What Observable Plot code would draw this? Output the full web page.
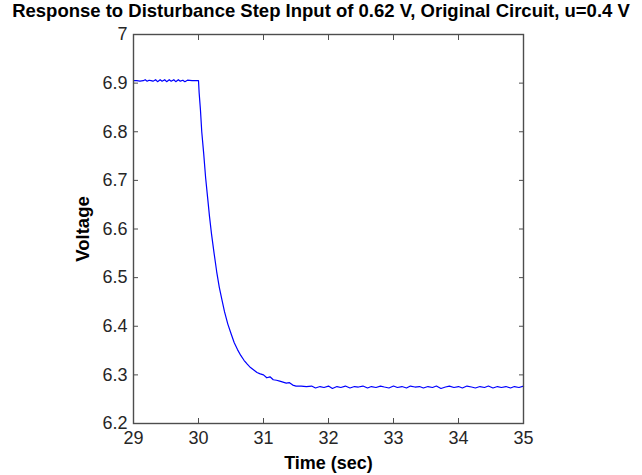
<!DOCTYPE html>
<html>
<head>
<meta charset="utf-8">
<script src="https://cdn.jsdelivr.net/npm/d3@7"></script>
<script src="https://cdn.jsdelivr.net/npm/@observablehq/plot@0.6"></script>
<style>
  body { margin: 0; background: #fff; }
  #wrap { position: relative; width: 642px; height: 475px; font-family: "Liberation Sans", Arial, sans-serif; }
  #title { position: absolute; left: 0; top: 0px; width: 642px; text-align: center; font-weight: bold; font-size: 18.5px; line-height: 21px; color: #000; white-space: nowrap; z-index: 2; }
  #chart { position: absolute; left: 0; top: 0; }
</style>
</head>
<body>
<div id="wrap"><div id="title"></div><div id="chart"></div></div>
<script>
const titleText = "Response to Disturbance Step Input of 0.62 V, Original Circuit, u=0.4 V";
const xLabel = "Time (sec)";
const yLabel = "Voltage";
const xTicks = [29, 30, 31, 32, 33, 34, 35];
const yTicks = [6.2, 6.3, 6.4, 6.5, 6.6, 6.7, 6.8, 6.9, 7.0];

const time = [
  29.00, 29.05, 29.10, 29.15, 29.18, 29.21, 29.24, 29.27, 29.30, 29.34,
  29.37, 29.41, 29.44, 29.48, 29.51, 29.55, 29.58, 29.62, 29.65, 29.69,
  29.72, 29.76, 29.79, 29.83, 29.90, 29.96, 30.00, 30.01, 30.03, 30.05,
  30.08, 30.11, 30.14, 30.17, 30.20, 30.24, 30.28, 30.32, 30.36, 30.40,
  30.45, 30.50, 30.55, 30.60, 30.65, 30.70, 30.75, 30.80, 30.85, 30.90,
  30.95, 31.00, 31.05, 31.10, 31.15, 31.20, 31.25, 31.30, 31.35, 31.40,
  31.45, 31.50, 31.58, 31.66, 31.74, 31.80, 31.87, 31.93, 32.00, 32.06,
  32.13, 32.19, 32.26, 32.33, 32.40, 32.46, 32.53, 32.60, 32.66, 32.73,
  32.80, 32.86, 32.93, 33.00, 33.06, 33.13, 33.20, 33.26, 33.33, 33.40,
  33.46, 33.53, 33.60, 33.66, 33.73, 33.80, 33.86, 33.93, 34.00, 34.06,
  34.13, 34.20, 34.26, 34.33, 34.40, 34.46, 34.53, 34.60, 34.66, 34.73,
  34.80, 34.86, 34.93, 35.00
];
const voltage = [
  6.905, 6.905, 6.904, 6.905, 6.907, 6.904, 6.906, 6.905, 6.904, 6.907,
  6.903, 6.907, 6.904, 6.907, 6.903, 6.907, 6.904, 6.907, 6.903, 6.907,
  6.904, 6.906, 6.903, 6.906, 6.905, 6.905, 6.905, 6.880, 6.845, 6.800,
  6.755, 6.705, 6.665, 6.625, 6.590, 6.550, 6.512, 6.480, 6.455, 6.430,
  6.405, 6.385, 6.366, 6.352, 6.340, 6.330, 6.322, 6.315, 6.310, 6.305,
  6.302, 6.300, 6.294, 6.296, 6.290, 6.289, 6.287, 6.285, 6.283, 6.284,
  6.279, 6.277, 6.277, 6.276, 6.277, 6.273, 6.276, 6.274, 6.277, 6.272,
  6.276, 6.274, 6.277, 6.273, 6.276, 6.275, 6.277, 6.273, 6.276, 6.274,
  6.277, 6.275, 6.273, 6.277, 6.274, 6.276, 6.273, 6.277, 6.275, 6.276,
  6.273, 6.276, 6.274, 6.277, 6.272, 6.275, 6.277, 6.274, 6.276, 6.273,
  6.277, 6.275, 6.273, 6.276, 6.274, 6.277, 6.273, 6.276, 6.274, 6.276,
  6.273, 6.276, 6.274, 6.277
];

const data = time.map((t, i) => ({t, v: voltage[i]}));
document.getElementById("title").textContent = titleText;

const axisColor = "#4d4d4d";
const tickFmt = d => String(+d.toFixed(1));

const chart = Plot.plot({
  width: 642,
  height: 475,
  marginLeft: 133,
  marginRight: 119,
  marginTop: 34,
  marginBottom: 52,
  style: {fontFamily: "'Liberation Sans', Arial, sans-serif", fontSize: "18px", color: "#262626", background: "#fff", overflow: "visible"},
  x: {domain: [29, 35]},
  y: {domain: [6.2, 7.0]},
  marks: [
    Plot.line(data, {x: "t", y: "v", stroke: "#0000ff", strokeWidth: 1.2}),
    Plot.frame({stroke: axisColor, strokeWidth: 1.4}),
    Plot.axisX(xTicks, {anchor: "bottom", tickSize: -5, stroke: axisColor, fill: "none", label: null}),
    Plot.axisX(xTicks, {anchor: "top", tickSize: -5, stroke: axisColor, fill: "none", label: null}),
    Plot.axisY(yTicks, {anchor: "left", tickSize: -5, stroke: axisColor, fill: "none", label: null}),
    Plot.axisY(yTicks, {anchor: "right", tickSize: -5, stroke: axisColor, fill: "none", label: null}),
    Plot.axisX(xTicks, {anchor: "bottom", tickSize: 0, tickPadding: 8, tickFormat: tickFmt, fill: "#262626", fontSize: 18, label: null}),
    Plot.axisY(yTicks, {anchor: "left", tickSize: 0, tickPadding: 6, tickFormat: tickFmt, fill: "#262626", fontSize: 18, label: null}),
    Plot.axisX([], {anchor: "bottom", label: xLabel, labelAnchor: "center", labelArrow: "none", labelOffset: 45, tickSize: 0, fontWeight: "bold", fontSize: 18, fill: "#000"}),
    Plot.axisY([], {anchor: "left", label: yLabel, labelAnchor: "center", labelArrow: "none", labelOffset: 58, tickSize: 0, fontWeight: "bold", fontSize: 18.5, fill: "#000"})
  ]
});
document.getElementById("chart").appendChild(chart);
</script>
</body>
</html>
